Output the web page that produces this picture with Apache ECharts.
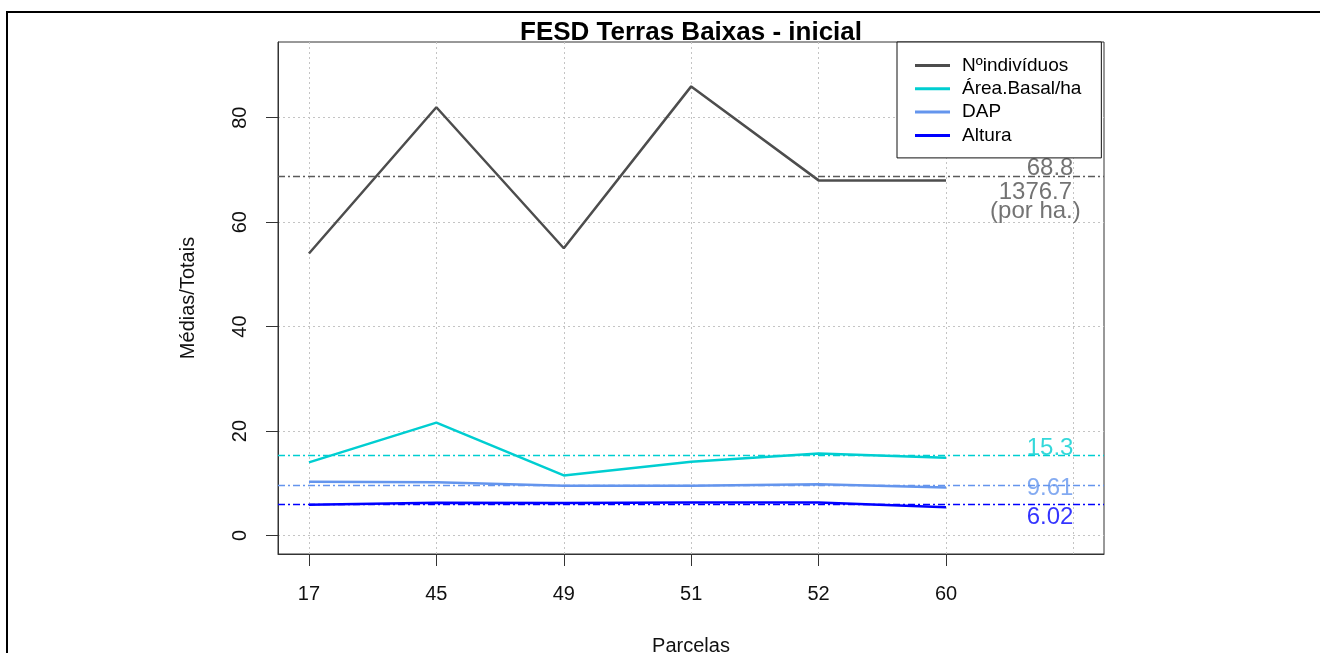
<!DOCTYPE html>
<html>
<head>
<meta charset="utf-8">
<script src="https://cdn.jsdelivr.net/npm/echarts@6/dist/echarts.min.js"></script>
<style>
html,body{margin:0;padding:0;background:#fff;}
#chart{width:1320px;height:653px;}
</style>
</head>
<body>
<div id="chart"></div>
<script>
// ---- data ----
const parcelas = ['17', '45', '49', '51', '52', '60'];
const nIndividuos = [54, 82, 55, 86, 68, 68];
const areaBasal = [14.0, 21.6, 11.5, 14.1, 15.7, 14.9];
const dap = [10.3, 10.2, 9.5, 9.5, 9.8, 9.2];
const altura = [5.9, 6.25, 6.2, 6.3, 6.3, 5.4];
const seriesNames = ['Nºindivíduos', 'Área.Basal/ha', 'DAP', 'Altura'];
const medias = [68.8, 15.3, 9.61, 6.02];
const totalPorHa = '1376.7';
const yTicks = [0, 20, 40, 60, 80];

const colors = ['#4d4d4d', '#00CED1', '#6495ED', '#0000FF'];
const meanLineColors = ['#5a5a5a', '#00CED1', '#6495ED', '#0000FF'];
const labelColors = ['#505050', '#00CED1', '#6495ED', '#0000FF'];
const FONT = '"Liberation Sans", Arial, sans-serif';

const xPos = parcelas.map((p, i) => i + 1);
const xTicksGrid = xPos.concat([xPos.length + 1]);
const values = [nIndividuos, areaBasal, dap, altura];

const chart = echarts.init(document.getElementById('chart'), null, {renderer: 'canvas'});

const series = [];
values.forEach((vals, k) => {
  series.push({
    name: seriesNames[k],
    type: 'line',
    data: vals.map((v, i) => [xPos[i], v]),
    symbol: 'none',
    lineStyle: {color: colors[k], width: 2.5},
    itemStyle: {color: colors[k]},
    z: 3,
    markLine: {
      silent: true,
      symbol: 'none',
      label: {show: false},
      lineStyle: {color: meanLineColors[k], width: 1.3, type: [7, 3, 2, 3], opacity: 1},
      emphasis: {disabled: true},
      data: [{yAxis: medias[k], lineStyle: {color: meanLineColors[k]}}],
      animation: false
    }
  });
});

const labelLayouts = [
  {pos: [0, 4], va: 'bottom'},
  {pos: [0, 5], va: 'bottom'},
  {pos: [0, 3], va: 'middle'},
  {pos: [0, 1], va: 'top'}
];
const xLabelAt = xPos.length + 1;
medias.forEach((m, k) => {
  series.push({
    name: 'lbl' + k,
    type: 'scatter',
    data: [[xLabelAt, m]],
    symbolSize: 0,
    silent: true,
    z: 6,
    label: {
      show: true,
      formatter: String(m),
      position: labelLayouts[k].pos,
      align: 'right',
      verticalAlign: labelLayouts[k].va,
      color: labelColors[k],
      fontFamily: FONT,
      fontSize: 24,
      lineHeight: 24
    }
  });
});
series.push({
  name: 'lblHa',
  type: 'scatter',
  data: [[xLabelAt, medias[0]]],
  symbolSize: 0,
  silent: true,
  z: 6,
  label: {
    show: true,
    formatter: totalPorHa + '\n(por ha.)',
    position: [-38, 7],
    align: 'center',
    verticalAlign: 'top',
    color: labelColors[0],
    fontFamily: FONT,
    fontSize: 24,
    lineHeight: 19
  }
});

const option = {
  animation: false,
  backgroundColor: '#ffffff',
  title: {
    text: 'FESD Terras Baixas - inicial',
    left: 691,
    top: 20,
    textAlign: 'center',
    padding: 0,
    textStyle: {fontFamily: FONT, fontSize: 26, fontWeight: 'bold', color: '#000', lineHeight: 26}
  },
  grid: {
    left: 278, right: 216, top: 42, bottom: 99,
    show: true, borderColor: '#333', borderWidth: 1,
    containLabel: false, outerBoundsMode: 'none'
  },
  legend: {
    data: seriesNames,
    orient: 'vertical',
    left: 897,
    top: 42,
    padding: [14, 20, 13, 18],
    itemGap: 4.3,
    itemWidth: 35,
    itemHeight: 3,
    icon: 'rect',
    backgroundColor: '#ffffff',
    borderColor: '#111',
    borderWidth: 1,
    borderRadius: 0,
    z: 10,
    selectedMode: false,
    textStyle: {fontFamily: FONT, fontSize: 19, lineHeight: 19, color: '#000', padding: [0, 0, 0, 7]}
  },
  xAxis: [
    {
      type: 'value',
      min: 0.757, max: 7.24,
      position: 'bottom',
      name: 'Parcelas',
      nameLocation: 'middle',
      nameGap: 82,
      nameTextStyle: {fontFamily: FONT, fontSize: 20, color: '#111'},
      axisLine: {show: true, onZero: false, lineStyle: {color: '#333', width: 1}},
      axisTick: {show: true, inside: false, length: 12, customValues: xPos, lineStyle: {color: '#333', width: 1}},
      axisLabel: {
        show: true, customValues: xPos, margin: 30,
        fontFamily: FONT, fontSize: 20, color: '#111',
        formatter: v => parcelas[Math.round(v) - 1] || ''
      },
      splitLine: {show: false}
    },
    {
      type: 'value',
      min: 0.757, max: 7.24,
      position: 'top',
      axisLine: {show: false},
      axisTick: {show: false, customValues: xTicksGrid},
      axisLabel: {show: false, customValues: xTicksGrid},
      splitLine: {show: true, lineStyle: {color: '#c4c4c4', width: 1, type: [2, 3]}}
    }
  ],
  yAxis: {
    type: 'value',
    min: -3.55, max: 94.5,
    name: 'Médias/Totais',
    nameLocation: 'middle',
    nameGap: 80,
    nameRotate: 90,
    nameTextStyle: {fontFamily: FONT, fontSize: 20, color: '#111'},
    axisLine: {show: true, onZero: false, lineStyle: {color: '#333', width: 1}},
    axisTick: {show: true, inside: false, length: 12, customValues: yTicks, lineStyle: {color: '#333', width: 1}},
    axisLabel: {
      show: true, customValues: yTicks, rotate: 90, margin: 28,
      fontFamily: FONT, fontSize: 20, color: '#111'
    },
    splitLine: {show: true, lineStyle: {color: '#c4c4c4', width: 1, type: [2, 3]}}
  },
  graphic: [
    {
      type: 'rect',
      silent: true,
      z: 100,
      shape: {x: 7, y: 12, width: 1400, height: 700},
      style: {fill: 'none', stroke: '#000', lineWidth: 2}
    }
  ],
  series: series
};

chart.setOption(option);
</script>
</body>
</html>
